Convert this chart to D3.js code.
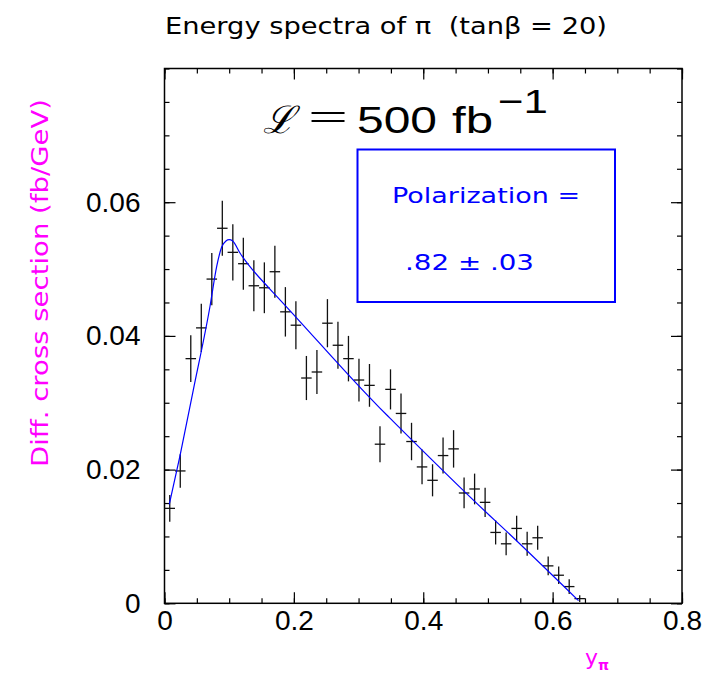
<!DOCTYPE html>
<html>
<head>
<meta charset="utf-8">
<script src="https://cdn.jsdelivr.net/npm/d3@7"></script>
<style>
  html, body { margin: 0; padding: 0; background: #fff; }
  svg { display: block; }
  text { white-space: pre; }
</style>
</head>
<body>
<svg id="chart" width="704" height="677"></svg>
<script>
// Measured pion energy spectrum: 40 bins of width 0.01625 in y_pi
const binWidth = 0.01625;
const binCenters = d3.range(40).map(i => binWidth / 2 + i * binWidth);
const crossSection = [
  0.0142, 0.0198, 0.0366, 0.0412, 0.0485, 0.0561, 0.0525, 0.0508, 0.0475, 0.0472,
  0.0496, 0.0436, 0.0416, 0.0337, 0.0346, 0.0419, 0.0386, 0.0366, 0.0334, 0.0326,
  0.0238, 0.0320, 0.0284, 0.0242, 0.0204, 0.0184, 0.0221, 0.0231, 0.0165, 0.0171,
  0.0151, 0.0106, 0.0089, 0.0112, 0.0089, 0.0098, 0.0056, 0.0042, 0.0025, 0.0007
];
const crossSectionErr = [
  0.0020, 0.0025, 0.0035, 0.0036, 0.0039, 0.0041, 0.0042, 0.0039, 0.0038, 0.0038,
  0.0039, 0.0037, 0.0036, 0.0033, 0.0033, 0.0036, 0.0035, 0.0034, 0.0032, 0.0032,
  0.0027, 0.0030, 0.0030, 0.0028, 0.0026, 0.0024, 0.0027, 0.0028, 0.0023, 0.0023,
  0.0022, 0.0018, 0.0017, 0.0019, 0.0018, 0.0018, 0.0014, 0.0013, 0.0011, 0.0005
];

// Fitted spectrum (polarization .82)
const fitX = [0.0074, 0.024, 0.0445, 0.0703, 0.0807, 0.0884, 0.095, 0.100, 0.1054, 0.1167, 0.163, 0.1785, 0.333, 0.3485, 0.503, 0.5186, 0.640];
const fitY = [0.0148, 0.0221, 0.0319, 0.0444, 0.0504, 0.0533, 0.0542, 0.0544, 0.0542, 0.0524, 0.0470, 0.0454, 0.0292, 0.0277, 0.0131, 0.0117, 0.0004];

// Axis ticks
const xMajorTicks = [0, 0.2, 0.4, 0.6, 0.8];
const xTickLabels = ["0", "0.2", "0.4", "0.6", "0.8"];
const yMajorTicks = [0, 0.02, 0.04, 0.06];
const yTickLabels = ["0", "0.02", "0.04", "0.06"];

const svg = d3.select("#chart");
const x = d3.scaleLinear().domain([0, 0.8]).range([164.5, 682]);
const y = d3.scaleLinear().domain([0, 0.08]).range([603.3, 68.5]);

const minorX = d3.range(0, 0.8001, 0.05);
const minorY = d3.range(0, 0.0801, 0.005);
const tickFont = "'Liberation Sans', Arial, sans-serif";
const roundFont = "'DejaVu Sans', sans-serif";

// Bottom axis: labelled major ticks plus minor ticks, all pointing inward
svg.append("g").attr("transform", `translate(0,${y(0)})`)
  .call(d3.axisBottom(x).tickValues(minorX).tickSize(-5).tickFormat(""));
svg.append("g").attr("transform", `translate(0,${y(0)})`)
  .call(d3.axisBottom(x).tickValues(xMajorTicks).tickSize(-11).tickPadding(7)
    .tickFormat((d, i) => xTickLabels[i]));

// Top axis
svg.append("g").attr("transform", `translate(0,${y(0.08)})`)
  .call(d3.axisTop(x).tickValues(minorX).tickSize(-5).tickFormat(""));
svg.append("g").attr("transform", `translate(0,${y(0.08)})`)
  .call(d3.axisTop(x).tickValues(xMajorTicks).tickSize(-11).tickFormat(""));

// Left axis
svg.append("g").attr("transform", `translate(${x(0)},0)`)
  .call(d3.axisLeft(y).tickValues(minorY).tickSize(-5).tickFormat(""));
svg.append("g").attr("transform", `translate(${x(0)},0)`)
  .call(d3.axisLeft(y).tickValues(yMajorTicks).tickSize(-11).tickPadding(24)
    .tickFormat((d, i) => yTickLabels[i]));

// Right axis
svg.append("g").attr("transform", `translate(${x(0.8)},0)`)
  .call(d3.axisRight(y).tickValues(minorY).tickSize(-5).tickFormat(""));
svg.append("g").attr("transform", `translate(${x(0.8)},0)`)
  .call(d3.axisRight(y).tickValues(yMajorTicks).tickSize(-11).tickFormat(""));

svg.selectAll(".domain").remove();
svg.selectAll(".tick line").attr("stroke", "#000").attr("stroke-width", 1.2);
svg.selectAll(".tick text")
  .attr("font-family", tickFont).attr("font-size", 28).attr("fill", "#000");

// Frame
svg.append("rect")
  .attr("x", x(0)).attr("y", y(0.08))
  .attr("width", x(0.8) - x(0)).attr("height", y(0) - y(0.08))
  .attr("fill", "none").attr("stroke", "#000").attr("stroke-width", 1.5);

// Data points with error bars
const pts = binCenters.map((c, i) => ({ x: c, y: crossSection[i], e: crossSectionErr[i] }));
const gPts = svg.append("g").attr("stroke", "#111").attr("stroke-width", 1.3);
gPts.selectAll("line.v").data(pts).join("line").attr("class", "v")
  .attr("x1", d => x(d.x)).attr("x2", d => x(d.x))
  .attr("y1", d => y(Math.max(0, d.y - d.e))).attr("y2", d => y(d.y + d.e));
gPts.selectAll("line.h").data(pts).join("line").attr("class", "h")
  .attr("x1", d => x(d.x - binWidth / 2)).attr("x2", d => x(d.x + binWidth / 2))
  .attr("y1", d => y(d.y)).attr("y2", d => y(d.y));

// Fit curve
const fitPts = fitX.map((v, i) => [v, fitY[i]]);
svg.append("path")
  .attr("d", d3.line().x(d => x(d[0])).y(d => y(d[1])).curve(d3.curveMonotoneX)(fitPts))
  .attr("fill", "none").attr("stroke", "#0000ff").attr("stroke-width", 1.2);

// Helper for wide, stretched labels
function label(txt, px, py, size, width, color, family) {
  return svg.append("text").attr("x", px).attr("y", py)
    .attr("font-family", family || roundFont).attr("font-size", size)
    .attr("fill", color || "#000")
    .attr("textLength", width).attr("lengthAdjust", "spacingAndGlyphs")
    .text(txt);
}

// Title
label("Energy spectra of π  (tanβ = 20)", 165, 34, 23, 442);

// Luminosity
label("ℒ", 263, 133, 38, 32, "#000", "'DejaVu Serif', serif").attr("font-style", "italic");
label("=", 308, 131, 40, 40, "#000", "'Liberation Serif', serif");
label("500", 357, 133, 36, 80, "#000", tickFont);
label("fb", 452, 133, 36, 41, "#000", tickFont);
label("−1", 498, 113, 34, 50, "#000", tickFont);

// Polarization box
svg.append("rect").attr("x", 357.5).attr("y", 149.5).attr("width", 257.5).attr("height", 152.5)
  .attr("fill", "none").attr("stroke", "#0000ff").attr("stroke-width", 2);
label("Polarization =", 392, 203, 22, 188, "#0000ff");
label(".82 ± .03", 405, 270, 22, 129, "#0000ff");

// Axis titles
svg.append("text")
  .attr("transform", "translate(48,467) rotate(-90)")
  .attr("font-family", roundFont).attr("font-size", 23).attr("fill", "#ff00ff")
  .attr("textLength", 368).attr("lengthAdjust", "spacingAndGlyphs")
  .text("Diff. cross section (fb/GeV)");
const xt = svg.append("text").attr("x", 585).attr("y", 665)
  .attr("font-family", roundFont).attr("font-size", 22).attr("fill", "#ff00ff");
xt.append("tspan").text("y");
xt.append("tspan").attr("dy", 5).attr("font-size", 14).attr("font-weight", "bold").text("π");
</script>
</body>
</html>
